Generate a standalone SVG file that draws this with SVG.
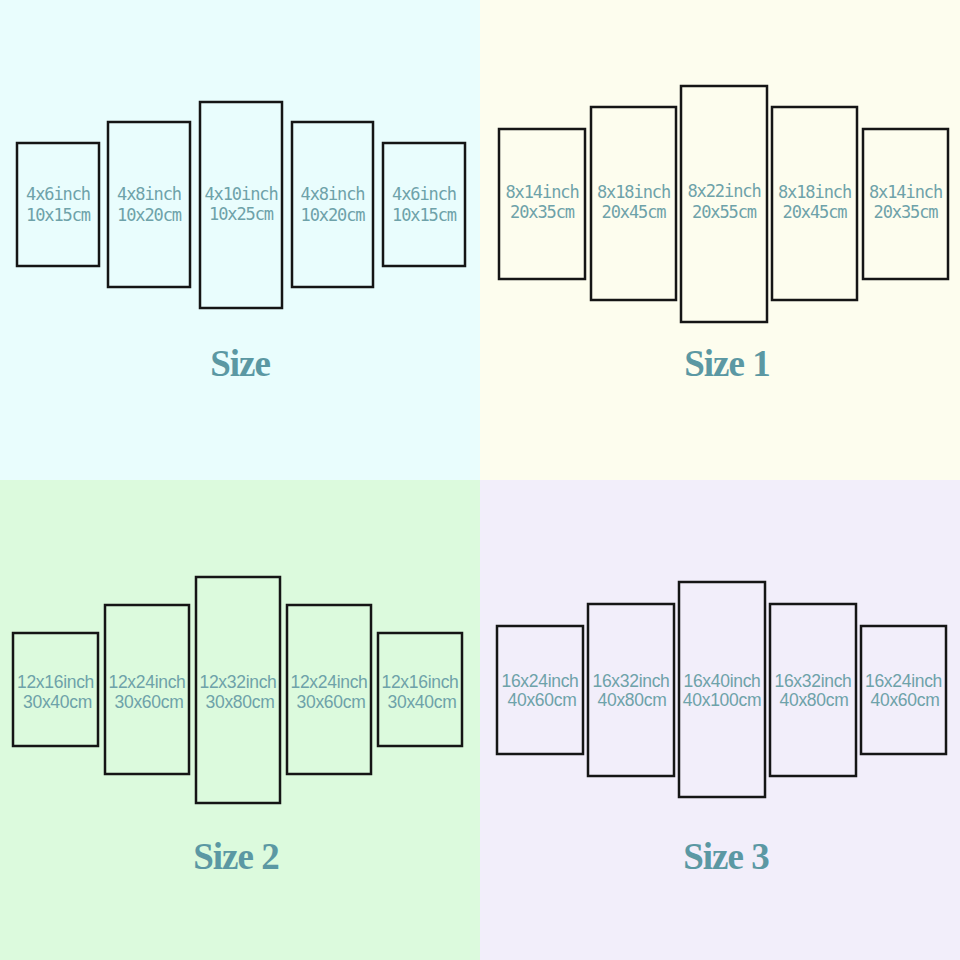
<svg xmlns="http://www.w3.org/2000/svg" width="960" height="960" viewBox="0 0 960 960">
<style>
.p{fill:none;stroke:#151515;stroke-width:2.5}
.m{font-family:"DejaVu Sans Mono","Liberation Mono",monospace;font-size:17px;fill:#6ea2a9;text-anchor:middle;letter-spacing:-1.1px}
.s{font-family:"Liberation Sans",Arial,sans-serif;font-size:17.5px;fill:#6ea2a9;text-anchor:middle;letter-spacing:-0.3px}
.t{font-family:"Liberation Serif","Times New Roman",serif;font-weight:bold;font-size:37px;fill:#5b98a3;text-anchor:middle;letter-spacing:-1px}
</style>
<rect x="0" y="0" width="480" height="480" fill="#e9fdfd"/>
<rect x="480" y="0" width="480" height="480" fill="#fdfdee"/>
<rect x="0" y="480" width="480" height="480" fill="#dcfadd"/>
<rect x="480" y="480" width="480" height="480" fill="#f2eefa"/>

<g id="q1">
<g id="q1a"><rect class="p" x="17" y="143" width="82" height="123"/><text class="m" x="58" y="200">4x6inch</text><text class="m" x="58" y="221">10x15cm</text></g>
<g id="q1b"><rect class="p" x="108" y="122" width="82" height="165"/><text class="m" x="149" y="200">4x8inch</text><text class="m" x="149" y="221">10x20cm</text></g>
<g id="q1c"><rect class="p" x="200" y="102" width="82" height="206"/><text class="m" x="241" y="200">4x10inch</text><text class="m" x="241" y="220">10x25cm</text></g>
<g id="q1d"><rect class="p" x="292" y="122" width="81" height="165"/><text class="m" x="332.5" y="200">4x8inch</text><text class="m" x="332.5" y="221">10x20cm</text></g>
<g id="q1e"><rect class="p" x="383" y="143" width="82" height="123"/><text class="m" x="424" y="200">4x6inch</text><text class="m" x="424" y="221">10x15cm</text></g>
<text id="t0" class="t" x="240" y="376">Size</text>
</g>

<g id="q2">
<g id="q2a"><rect class="p" x="499" y="129" width="86" height="150"/><text class="m" x="542" y="198">8x14inch</text><text class="m" x="542" y="218">20x35cm</text></g>
<g id="q2b"><rect class="p" x="591" y="107" width="85" height="193"/><text class="m" x="633.5" y="198">8x18inch</text><text class="m" x="633.5" y="218">20x45cm</text></g>
<g id="q2c"><rect class="p" x="681" y="86" width="86" height="236"/><text class="m" x="724" y="197">8x22inch</text><text class="m" x="724" y="218">20x55cm</text></g>
<g id="q2d"><rect class="p" x="772" y="107" width="85" height="193"/><text class="m" x="814.5" y="198">8x18inch</text><text class="m" x="814.5" y="218">20x45cm</text></g>
<g id="q2e"><rect class="p" x="863" y="129" width="85" height="150"/><text class="m" x="905.5" y="198">8x14inch</text><text class="m" x="905.5" y="218">20x35cm</text></g>
<text id="t1" class="t" x="727" y="376">Size 1</text>
</g>

<g id="q3">
<g id="q3a"><rect class="p" x="13" y="633" width="85" height="113"/><text class="s" x="55.5" y="688">12x16inch</text><text class="s" x="57.5" y="708">30x40cm</text></g>
<g id="q3b"><rect class="p" x="105" y="605" width="84" height="169"/><text class="s" x="147" y="688">12x24inch</text><text class="s" x="149" y="708">30x60cm</text></g>
<g id="q3c"><rect class="p" x="196" y="577" width="84" height="226"/><text class="s" x="238" y="688">12x32inch</text><text class="s" x="240" y="708">30x80cm</text></g>
<g id="q3d"><rect class="p" x="287" y="605" width="84" height="169"/><text class="s" x="329" y="688">12x24inch</text><text class="s" x="331" y="708">30x60cm</text></g>
<g id="q3e"><rect class="p" x="378" y="633" width="84" height="113"/><text class="s" x="420" y="688">12x16inch</text><text class="s" x="422" y="708">30x40cm</text></g>
<text id="t2" class="t" x="236" y="869">Size 2</text>
</g>

<g id="q4">
<g id="q4a"><rect class="p" x="497" y="626" width="86" height="128"/><text class="s" x="540" y="687">16x24inch</text><text class="s" x="542" y="706">40x60cm</text></g>
<g id="q4b"><rect class="p" x="588" y="604" width="86" height="172"/><text class="s" x="631" y="687">16x32inch</text><text class="s" x="632" y="706">40x80cm</text></g>
<g id="q4c"><rect class="p" x="679" y="582" width="86" height="215"/><text class="s" x="722" y="687">16x40inch</text><text class="s" x="722" y="706">40x100cm</text></g>
<g id="q4d"><rect class="p" x="770" y="604" width="86" height="172"/><text class="s" x="813" y="687">16x32inch</text><text class="s" x="814" y="706">40x80cm</text></g>
<g id="q4e"><rect class="p" x="861" y="626" width="85" height="128"/><text class="s" x="903.5" y="687">16x24inch</text><text class="s" x="905" y="706">40x60cm</text></g>
<text id="t3" class="t" x="726" y="869">Size 3</text>
</g>
<g id="connectors"/>
</svg>
